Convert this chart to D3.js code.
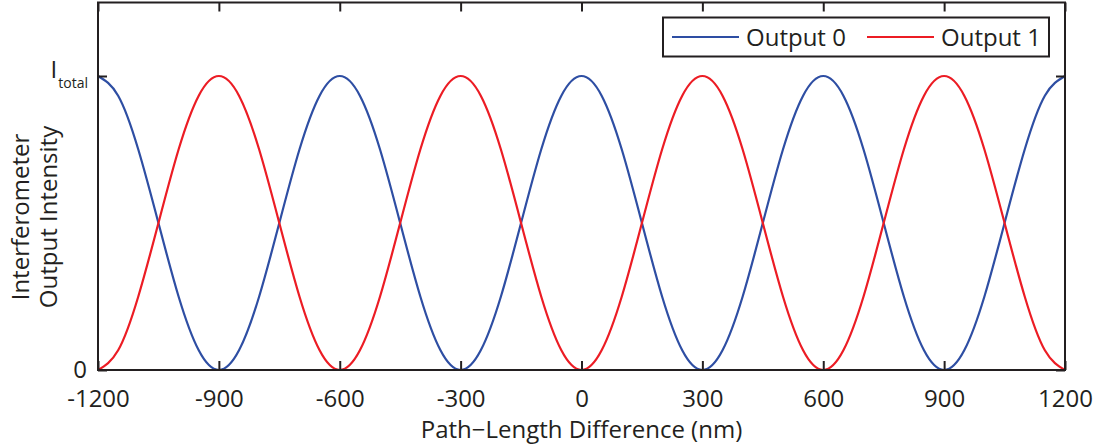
<!DOCTYPE html>
<html>
<head>
<meta charset="utf-8">
<script src="https://cdn.jsdelivr.net/npm/d3@7"></script>
<style>
  html, body { margin: 0; padding: 0; background: #fff; }
  svg { display: block; }
  text { font-family: "Open Sans", "Noto Sans", sans-serif; fill: #231f20; }
</style>
</head>
<body>
<svg id="chart" width="1099" height="446"></svg>
<script>
// Data (path-length difference in nm, normalized intensity)
const pathDiff = [-1200,-1150,-1100,-1050,-1000,-950,-900,-850,-800,-750,-700,-650,
  -600,-550,-500,-450,-400,-350,-300,-250,-200,-150,-100,-50,
  0,50,100,150,200,250,300,350,400,450,500,550,
  600,650,700,750,800,850,900,950,1000,1050,1100,1150,1200];
const output0 = [1,.933,.75,.5,.25,.067,0,.067,.25,.5,.75,.933,
  1,.933,.75,.5,.25,.067,0,.067,.25,.5,.75,.933,
  1,.933,.75,.5,.25,.067,0,.067,.25,.5,.75,.933,
  1,.933,.75,.5,.25,.067,0,.067,.25,.5,.75,.933,
  1];
const output1 = [0,.067,.25,.5,.75,.933,1,.933,.75,.5,.25,.067,
  0,.067,.25,.5,.75,.933,1,.933,.75,.5,.25,.067,
  0,.067,.25,.5,.75,.933,1,.933,.75,.5,.25,.067,
  0,.067,.25,.5,.75,.933,1,.933,.75,.5,.25,.067,
  0];
const seriesNames = ["Output 0", "Output 1"];
const xTicks = [-1200,-900,-600,-300,0,300,600,900,1200];
const yTicks = [0, 1];
const xLabel = "Path\u2212Length Difference (nm)";
const yLabelLines = ["Interferometer", "Output Intensity"];

const colors = ["#2e4ea3", "#ec1c24"];
const axisColor = "#231f20";

const svg = d3.select("#chart");
const pLeft = 98, pRight = 1065, pTop = 2.5, pBottom = 370;

const x = d3.scaleLinear().domain([-1200, 1200]).range([pLeft, pRight]);
const y = d3.scaleLinear().domain([0, 1.25]).range([pBottom, pTop]);

// curves
const line = d3.line().x(d => x(d[0])).y(d => y(d[1])).curve(d3.curveNatural);
const series = [output0, output1];
series.forEach((vals, i) => {
  svg.append("path")
    .datum(pathDiff.map((p, j) => [p, vals[j]]))
    .attr("d", line)
    .attr("fill", "none")
    .attr("stroke", colors[i])
    .attr("stroke-width", 2.2);
});

// axes (ticks inward, mirrored on top/right)
const tickLen = 9;
const gx = svg.append("g").attr("transform", `translate(0,${pBottom})`)
  .call(d3.axisBottom(x).tickValues(xTicks).tickSizeInner(-tickLen).tickSizeOuter(0).tickPadding(tickLen + 11).tickFormat(d => String(d)));
const gxTop = svg.append("g").attr("transform", `translate(0,${pTop})`)
  .call(d3.axisTop(x).tickValues(xTicks).tickSizeInner(-tickLen).tickSizeOuter(0).tickFormat(""));
const gy = svg.append("g").attr("transform", `translate(${pLeft},0)`)
  .call(d3.axisLeft(y).tickValues(yTicks).tickSizeInner(-tickLen).tickSizeOuter(0).tickPadding(tickLen + 10).tickFormat(() => ""));
const gyR = svg.append("g").attr("transform", `translate(${pRight},0)`)
  .call(d3.axisRight(y).tickValues(yTicks).tickSizeInner(-tickLen).tickSizeOuter(0).tickFormat(""));

[gx, gxTop, gy, gyR].forEach(g => {
  g.select(".domain").remove();
  g.selectAll(".tick line").attr("stroke", axisColor).attr("stroke-width", 2);
});
gx.selectAll(".tick text").attr("font-size", 24).attr("fill", axisColor)
  .style("font-family", "'Open Sans', sans-serif");

// y tick labels: "0" and I_total
gy.selectAll(".tick").each(function(d) {
  const t = d3.select(this).select("text").attr("font-size", 24).attr("fill", axisColor)
    .style("font-family", "'Open Sans', sans-serif").attr("dy", "0.34em");
  if (d === 0) {
    t.text("0").attr("x", -11).attr("dy", "0.3em");
  } else {
    t.text("").attr("x", -10).attr("dy", "0.05em");
    t.append("tspan").text("I").attr("font-size", 24);
    t.append("tspan").text("total").attr("font-size", 14).attr("dy", "0.75em").attr("dx", "1");
  }
});

// frame
svg.append("rect")
  .attr("x", pLeft).attr("y", pTop)
  .attr("width", pRight - pLeft).attr("height", pBottom - pTop)
  .attr("fill", "none").attr("stroke", axisColor).attr("stroke-width", 2);

// axis labels
svg.append("text")
  .attr("x", (pLeft + pRight) / 2).attr("y", 438)
  .attr("text-anchor", "middle").attr("font-size", 24)
  .text(xLabel);

const yl = svg.append("text")
  .attr("transform", "translate(29,217) rotate(-90)")
  .attr("text-anchor", "middle").attr("font-size", 24);
yLabelLines.forEach((s, i) => {
  yl.append("tspan").attr("x", 0).attr("dy", i === 0 ? 0 : 28).text(s);
});

// legend
const lg = svg.append("g");
lg.append("rect").attr("x", 663).attr("y", 17.5).attr("width", 386).attr("height", 39)
  .attr("fill", "#fff").attr("stroke", axisColor).attr("stroke-width", 2);
const legendItems = [{lx: 672, tx: 746}, {lx: 867, tx: 941}];
seriesNames.forEach((name, i) => {
  lg.append("line").attr("x1", legendItems[i].lx).attr("x2", legendItems[i].lx + 67)
    .attr("y1", 37).attr("y2", 37).attr("stroke", colors[i]).attr("stroke-width", 2.2);
  lg.append("text").attr("x", legendItems[i].tx).attr("y", 45.5)
    .attr("font-size", 24).text(name);
});
</script>
</body>
</html>
